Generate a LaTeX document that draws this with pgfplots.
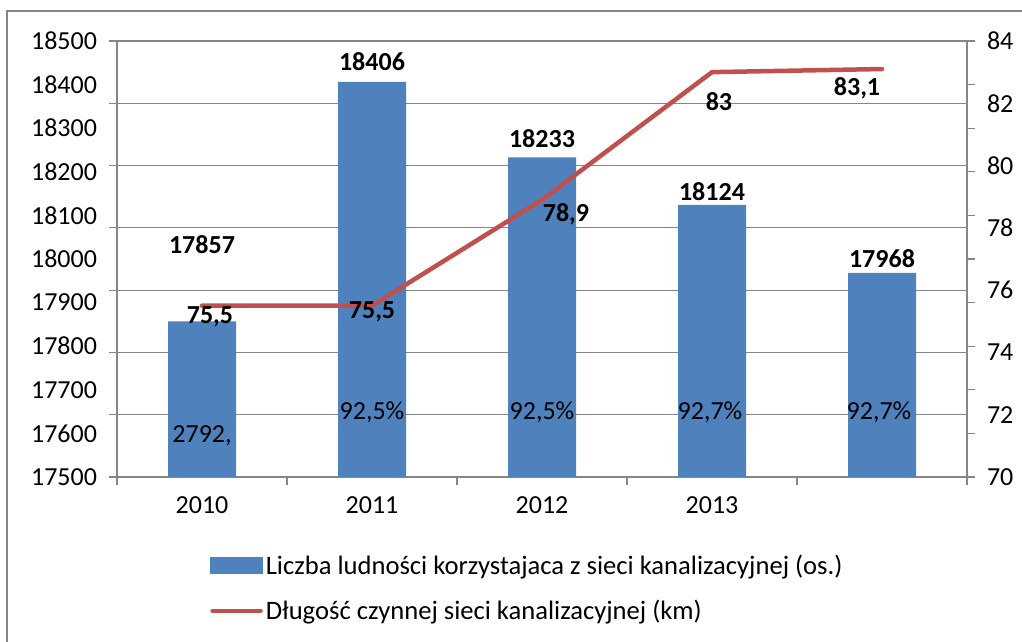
\documentclass[border=0pt]{standalone}
\usepackage{fontspec}
\setmainfont{Carlito}
\usepackage{pgfplots}
\pgfplotsset{compat=1.18}
\definecolor{barblue}{HTML}{4F81BD}
\definecolor{linered}{HTML}{C0504D}
\definecolor{axgray}{HTML}{868686}
\newcommand{\cf}{\fontsize{26}{31}\selectfont}
\newcommand{\lf}{\fontsize{26.6}{31}\selectfont}
\begin{document}
\begin{tikzpicture}[x=1pt,y=1pt]
\path[use as bounding box] (0,0) rectangle (1022,641);
\draw[axgray, line width=1.2pt] (7,-5) -- (7,630) -- (1030,630);
\begin{axis}[
  at={(117pt,164pt)}, anchor=south west,
  scale only axis, width=850pt, height=436pt,
  xmin=0.5, xmax=5.5, ymin=17500, ymax=18500,
  scaled y ticks=false,
  axis y line*=left, axis x line*=bottom,
  axis line style={axgray, line width=1.2pt, -},
  tick align=outside,
  major tick length=0pt,
  tick style={axgray, line width=1.2pt},
  ticklabel shift=16.5pt,
  ticklabel style={font=\cf},
  xtick={1,2,3,4}, xticklabels={2010,2011,2012,2013},
  extra x ticks={0.5,1.5,2.5,3.5,4.5,5.5}, extra x tick labels={},
  extra x tick style={major tick length=8pt},
  ytick={17500,17600,17700,17800,17900,18000,18100,18200,18300,18400,18500},
  yticklabels={17500,17600,17700,17800,17900,18000,18100,18200,18300,18400,18500},
  extra y ticks={17500,17642.857,17785.714,17928.571,18071.429,18214.286,18357.143,18500},
  extra y tick labels={},
  extra y tick style={major tick length=8pt, grid=major},
  major grid style={axgray, line width=1.2pt},
  clip=false,
]
\addplot[ybar, bar width=68pt, fill=barblue, draw=none] coordinates {(1,17857) (2,18406) (3,18233) (4,18124) (5,17968)};
\node[font=\cf\bfseries] at (axis cs:1,18034) {17857};
\node[font=\cf\bfseries] at (axis cs:2,18452) {18406};
\node[font=\cf\bfseries] at (axis cs:3,18277) {18233};
\node[font=\cf\bfseries] at (axis cs:4,18154) {18124};
\node[font=\cf\bfseries] at (axis cs:5,18002) {17968};
\node[font=\cf] at (axis cs:1,17594) {2792,};
\node[font=\cf] at (axis cs:2,17649) {92,5\%};
\node[font=\cf] at (axis cs:3,17649) {92,5\%};
\node[font=\cf] at (axis cs:3.988,17649) {92,7\%};
\node[font=\cf] at (axis cs:4.982,17649) {92,7\%};
\end{axis}
\begin{axis}[
  at={(117pt,164pt)}, anchor=south west,
  scale only axis, width=850pt, height=436pt,
  xmin=0.5, xmax=5.5, ymin=70, ymax=84,
  axis y line*=right, axis x line=none,
  axis line style={axgray, line width=1.2pt, -},
  tick align=outside,
  major tick length=0pt,
  tick style={axgray, line width=1.2pt},
  ticklabel shift=16.5pt,
  ticklabel style={font=\cf},
  ytick={70,72,74,76,78,80,82,84},
  yticklabels={70,72,74,76,78,80,82,84},
  extra y ticks={70,71.4,72.8,74.2,75.6,77,78.4,79.8,81.2,82.6,84},
  extra y tick labels={},
  extra y tick style={major tick length=8pt},
  clip=false,
  legend style={at={(axis description cs:0.106,-0.166)}, anchor=north west,
    draw=none, fill=none, font=\lf, row sep=19pt,
    nodes={inner sep=3pt}},
  legend cell align=left,
]
\addlegendimage{legend image code/.code={\fill[barblue] (0pt,-8pt) rectangle (52pt,8pt);}}
\addlegendentry{Liczba ludności korzystajaca z sieci kanalizacyjnej (os.)}
\addplot[linered, line width=4.5pt, line cap=round, line join=round,
  legend image code/.code={\draw[linered, line width=4.5pt, line cap=round] (2pt,0pt) -- (50pt,0pt);}]
  coordinates {(1,75.5) (2,75.5) (3,78.9) (4,83) (5,83.1)};
\addlegendentry{Długość czynnej sieci kanalizacyjnej (km)}
\node[font=\cf\bfseries] at (axis cs:1.047,75.14) {75,5};
\node[font=\cf\bfseries] at (axis cs:2,75.30) {75,5};
\node[font=\cf\bfseries] at (axis cs:3.141,78.445) {78,9};
\node[font=\cf\bfseries] at (axis cs:4.041,82.04) {83};
\node[font=\cf\bfseries] at (axis cs:4.853,82.49) {83,1};
\end{axis}
\end{tikzpicture}
\end{document}
